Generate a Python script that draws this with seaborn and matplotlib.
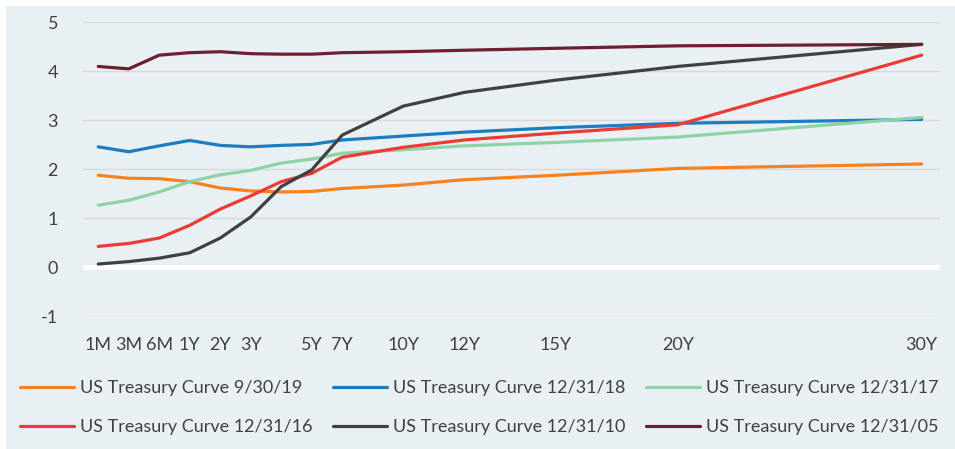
import numpy as np
import pandas as pd
import matplotlib
matplotlib.use("Agg")
import matplotlib.pyplot as plt
import seaborn as sns
from matplotlib.patches import Rectangle
from matplotlib.lines import Line2D

# category positions on the axis (Excel-style category axis with blank slots)
positions = [0, 1, 2, 3, 4, 5, 6, 7, 8, 10, 12, 15, 19, 27]
tick_positions = [0, 1, 2, 3, 4, 5, 7, 8, 10, 12, 15, 19, 27]
tick_labels = ["1M", "3M", "6M", "1Y", "2Y", "3Y", "5Y", "7Y", "10Y", "12Y", "15Y", "20Y", "30Y"]

curve_19_09 = [1.88, 1.82, 1.81, 1.75, 1.62, 1.56, 1.54, 1.55, 1.61, 1.68, 1.79, 1.88, 2.02, 2.11]
curve_18_12 = [2.46, 2.36, 2.48, 2.59, 2.49, 2.46, 2.49, 2.51, 2.60, 2.68, 2.76, 2.85, 2.94, 3.02]
curve_17_12 = [1.27, 1.37, 1.54, 1.75, 1.89, 1.98, 2.13, 2.21, 2.33, 2.40, 2.48, 2.55, 2.66, 3.06]
curve_16_12 = [0.43, 0.49, 0.60, 0.86, 1.19, 1.46, 1.75, 1.92, 2.25, 2.45, 2.60, 2.74, 2.91, 4.33]
curve_10_12 = [0.07, 0.12, 0.19, 0.30, 0.60, 1.03, 1.65, 1.99, 2.70, 3.29, 3.57, 3.82, 4.10, 4.55]
curve_05_12 = [4.10, 4.05, 4.33, 4.38, 4.40, 4.36, 4.35, 4.35, 4.38, 4.40, 4.43, 4.47, 4.52, 4.55]

series_names = ["US Treasury Curve 9/30/19", "US Treasury Curve 12/31/18", "US Treasury Curve 12/31/17",
                "US Treasury Curve 12/31/16", "US Treasury Curve 12/31/10", "US Treasury Curve 12/31/05"]
series_values = [curve_19_09, curve_18_12, curve_17_12, curve_16_12, curve_10_12, curve_05_12]
colors = ["#F58220", "#1B7DC0", "#8ED3A6", "#EC3B35", "#404040", "#6E1E2E"]

rows = []
for name, vals in zip(series_names, series_values):
    for p, v in zip(positions, vals):
        rows.append({"pos": p, "yield": v, "series": name})
df = pd.DataFrame(rows)

sns.set_theme(style="white")
plt.rcParams['font.family'] = ['Lato', 'DejaVu Sans']

BG = "#E8F0F3"
fig = plt.figure(figsize=(9.55, 4.49), dpi=100)
fig.patch.set_facecolor("white")
fig.patches.append(Rectangle((6/955, 0), 1 - 6/955, 1 - 6/449, transform=fig.transFigure,
                             facecolor=BG, edgecolor="none", zorder=-10))
ax = fig.add_axes([83/955, 1 - 316.5/449, (940-83)/955, (316.5-22.3)/449])
ax.set_facecolor(BG)

sns.lineplot(data=df, x="pos", y="yield", hue="series", hue_order=series_names,
             palette=colors, linewidth=2.3, ax=ax, legend=False, sort=False)

ax.set_xlim(-0.5, 27.6)
ax.set_ylim(-1, 5)
ax.set_yticks([-1, 0, 1, 2, 3, 4, 5])
ax.set_yticklabels(["-1", "0", "1", "2", "3", "4", "5"])
ax.set_xticks(tick_positions)
ax.set_xticklabels(tick_labels)
for y in [-1, 1, 2, 3, 4, 5]:
    ax.axhline(y, color="#D9D9D9", lw=1.0, zorder=0)
ax.axhline(0, color="white", lw=3.5, zorder=1)
for s in ax.spines.values():
    s.set_visible(False)
ax.tick_params(axis="both", length=0, labelsize=13, colors="#404040")
ax.tick_params(axis="y", pad=18)
ax.tick_params(axis="x", pad=15)
ax.set_xlabel("")
ax.set_ylabel("")

hs = [Line2D([0], [0], color=c, lw=2.3) for c in colors]
order = [0, 3, 1, 4, 2, 5]
leg = fig.legend([hs[i] for i in order], [series_names[i] for i in order], ncol=3,
                 loc="upper left", bbox_to_anchor=(20/955, 1 - 380/449), frameon=False,
                 fontsize=13, handlelength=3.0, handletextpad=0.35, columnspacing=1.1,
                 labelspacing=1.3, borderaxespad=0, borderpad=0)
for t in leg.get_texts():
    t.set_color("#404040")

fig.savefig("out.png", dpi=100, facecolor=fig.get_facecolor())
